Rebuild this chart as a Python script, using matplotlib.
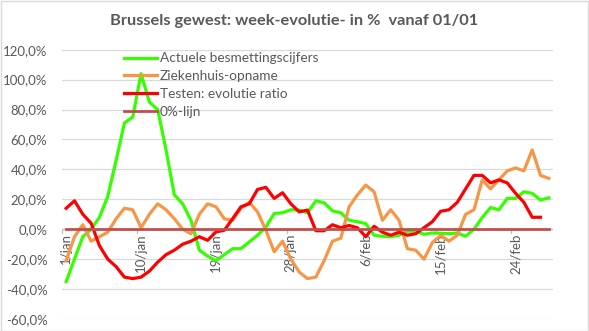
import matplotlib
matplotlib.use("Agg")
import matplotlib.pyplot as plt
import numpy as np

# ---- data (week evolution in %, daily categories from 1/jan to 28/feb) ----
green = [-35, -20, -5, 0, 8, 22, 46, 71, 75, 104, 85, 80, 53, 23, 17, 6, -14, -18, -21, -17,
         -13, -13, -8.5, -4, 1.5, 10.5, 11, 13, 12.8, 11, 19, 17.7, 12.3, 11, 6, 5, 3.8, -4, -4.7, -5,
         -4, -1.3, -1.3, -3.4, -2.5, -2.7, -3, -2.5, -4.7, 0, 7.8, 14.5, 13, 20.6, 20.6, 25, 24, 19.5, 21]
orange = [-21, -5, 3, -8, -5, -2, 7, 14, 13, 1, 10, 17, 13, 7, 0, -3, 10, 17, 15, 7,
          6, 14, 18, 11.6, -0.7, -15, -8, -20, -28.6, -33, -32, -21, -8, -6, 15, 23, 29.5, 25, 6, 13,
          6, -13, -14, -20, -9, -4, -8, -4, 10, 13, 33, 27, 33, 39, 41, 39, 53, 36, 34]
red = [14, 19, 10, 4, -11, -20, -25, -32, -33, -32, -28, -22, -17, -14, -10, -8, -5, -7.4, -1.8, -0.7,
       7, 15, 17, 26.6, 28, 20.6, 24.4, 17, 11.6, 12.8, -1, -1, 3, 1, 2.5, 1, -5, 2, -2, -4,
       -2, -4, -3, 1, 5, 12, 13, 18, 27, 36, 36, 31, 33, 31, 24, 18, 8, 8]
zero_line = [0] * len(green)

tick_labels = ["1/jan", "10/jan", "19/jan", "28/jan", "6/feb", "15/feb", "24/feb"]
tick_step = 9
series_names = ["Actuele besmettingscijfers", "Ziekenhuis-opname", "Testen: evolutie ratio", "0%-lijn"]
colors = ["#33FF00", "#F79646", "#FF0000", "#C0504D"]

plt.rcParams['font.family'] = ['Lato', 'DejaVu Sans']
TXT = "#595959"

fig = plt.figure(figsize=(5.89, 3.31), dpi=100)
ax = fig.add_axes([62 / 589, 12 / 331, 491 / 589, 269.3 / 331])

x_all = np.arange(len(green))
lw = 2.3
ax.plot(x_all, green, color=colors[0], lw=lw, label=series_names[0], solid_joinstyle='round', zorder=3)
ax.plot(x_all[:len(orange)], orange, color=colors[1], lw=lw, label=series_names[1], solid_joinstyle='round', zorder=3)
ax.plot(x_all[:len(red)], red, color=colors[2], lw=lw, label=series_names[2], solid_joinstyle='round', zorder=3)
ax.plot(x_all, zero_line, color=colors[3], lw=2.0, label=series_names[3], zorder=4)

ax.set_xlim(-0.5, len(green) - 0.5)
ax.set_ylim(-60, 120)
ax.set_yticks(np.arange(-60, 121, 20))
ax.set_yticklabels([f"{v:.1f}%".replace(".", ",") for v in np.arange(-60, 121, 20)],
                   fontsize=9.5, color=TXT)
ax.yaxis.grid(True, color="#D9D9D9", lw=0.9)
ax.set_axisbelow(True)
ax.tick_params(axis='y', length=0, pad=10.5)
for s in ax.spines.values():
    s.set_visible(False)

# x axis crossing at 0
ax.axhline(0, color="#BFBFBF", lw=0.9, zorder=1)
ax.set_xticks([])
tick_pos = [i * tick_step for i in range(len(tick_labels))]
for p, lab in zip(tick_pos, tick_labels):
    ax.plot([p - 0.5, p - 0.5], [0, -2.5], color="#BFBFBF", lw=0.9, zorder=1, clip_on=False)
    ax.text(p, -2.8, lab, rotation=90, ha='center', va='top', fontsize=9.5, color=TXT, zorder=2)

leg = ax.legend(loc='upper left', bbox_to_anchor=(0.126, 0.99), frameon=False,
                fontsize=9.8, handlelength=2.4, handletextpad=0.25, labelspacing=0.42,
                borderpad=0, borderaxespad=0)
for t in leg.get_texts():
    t.set_color(TXT)

fig.text(0.5, 1 - 21 / 331, "Brussels gewest: week-evolutie- in %  vanaf 01/01",
         ha='center', va='center', fontsize=11.8, fontweight='bold', color=TXT)

fig.patches.append(plt.Rectangle((0.001, 0.001), 0.997, 0.997, transform=fig.transFigure,
                                 fill=False, edgecolor="#D9D9D9", lw=1))
fig.savefig("out.png", dpi=100)
